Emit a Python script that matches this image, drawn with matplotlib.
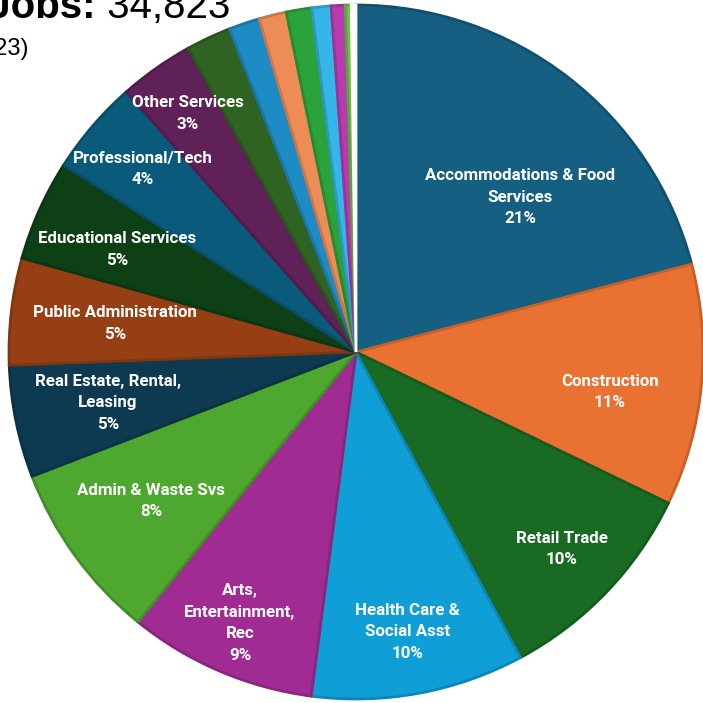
import numpy as np
import matplotlib.pyplot as plt
from matplotlib.colors import to_rgb

# data: jobs by industry (total 34,823)
industries = ["Accommodations & Food\nServices", "Construction", "Retail Trade",
              "Health Care &\nSocial Asst", "Arts,\nEntertainment,\nRec",
              "Admin & Waste Svs", "Real Estate, Rental,\nLeasing",
              "Public Administration", "Educational Services",
              "Professional/Tech", "Other Services",
              "Manufacturing", "Transportation & Warehousing", "Finance & Insurance",
              "Wholesale Trade", "Information", "Agriculture", "Utilities", "Mining"]
jobs = [7285, 3918, 3472, 3454, 3047, 2911, 1818, 1731, 1633, 1546, 1208,
        731, 501, 446, 414, 310, 223, 98, 77]
colors = ["#155F82", "#E97132", "#196B24", "#0F9ED5", "#A02B93", "#4EA72E",
          "#0D3A50", "#963F14", "#0E4016", "#0A5A7B", "#602058",
          "#2F6322", "#1D8BC4", "#EE8C58", "#2AA33C", "#35B5E8", "#B73AB0",
          "#6EBE4A", "#FFFFFF"]
total_jobs = 34823
n_labeled = 11
# label placement: radius (fraction) and angle shift from the wedge middle (deg)
label_r = [0.65, 0.74, 0.82, 0.82, 0.85, 0.73, 0.73, 0.70, 0.75, 0.81, 0.84]
label_shift = [-9, -3.4, 0, 0, 0, 0, 0, 0, 1, 0, 0]


def darker(c, f=0.85):
    r, g, b = to_rgb(c)
    return (r * f, g * f, b * f)


fig = plt.figure(figsize=(7.03, 7.03), dpi=100)
cx, cy, rad = 356 / 703, 1 - 352 / 703, 347 / 703
ax = fig.add_axes([cx - rad, cy - rad, 2 * rad, 2 * rad])

wedges, _ = ax.pie(jobs, colors=colors, startangle=90, counterclock=False,
                   radius=1, wedgeprops=dict(linewidth=2))
for w, c in zip(wedges, colors):
    w.set_edgecolor(darker(c) if c != "#FFFFFF" else "#FFFFFF")
ax.set_xlim(-1, 1)
ax.set_ylim(-1, 1)
ax.axis("off")

for i in range(n_labeled):
    w = wedges[i]
    ang = np.deg2rad((w.theta1 + w.theta2) / 2 + label_shift[i])
    pct = round(jobs[i] / sum(jobs) * 100)
    x = label_r[i] * np.cos(ang)
    y = label_r[i] * np.sin(ang)
    ax.text(x, y, f"{industries[i]}\n{pct}%", ha="center", va="center",
            multialignment="center", color="white", fontsize=12.2,
            fontweight="bold", family="Roboto", linespacing=1.55)

# title, cut at the top-left edge like the source
renderer = fig.canvas.get_renderer()
t_num = fig.text(230 / 703, 1 - 18 / 703, f" {total_jobs:,}", ha="right",
                 va="baseline", fontsize=29, family="Liberation Sans")
bb = t_num.get_window_extent(renderer)
fig.text(bb.x0 / fig.bbox.width, 1 - 18 / 703, "Total Jobs:", ha="right",
         va="baseline", fontsize=29, fontweight="bold", family="Liberation Sans")
fig.text(29 / 703, 1 - 55 / 703, "(2023)", ha="right", va="baseline",
         fontsize=17, family="Liberation Sans")

fig.savefig("out.png", dpi=100)
